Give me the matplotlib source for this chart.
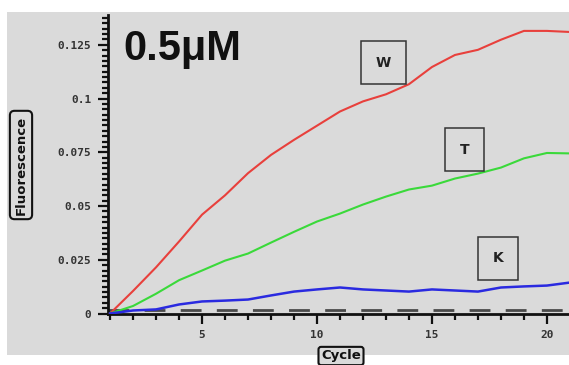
import matplotlib
matplotlib.use("Agg")
import matplotlib.pyplot as plt
from matplotlib.patches import Rectangle
from matplotlib.ticker import MultipleLocator, FixedLocator, FixedFormatter

cycles = list(range(1, 22))
w_vals = [0.0, 0.0105, 0.0215, 0.0335, 0.0460, 0.0550, 0.0653, 0.0738, 0.0808, 0.0874,
          0.0940, 0.0987, 0.1020, 0.1067, 0.1147, 0.1203, 0.1227, 0.1274, 0.1315, 0.1315, 0.1310]
t_vals = [0.0, 0.0035, 0.0092, 0.0155, 0.0200, 0.0246, 0.0279, 0.0330, 0.0380, 0.0428,
          0.0465, 0.0507, 0.0544, 0.0577, 0.0595, 0.0628, 0.0651, 0.0679, 0.0722, 0.0747, 0.0745]
k_vals = [0.0, 0.0014, 0.0019, 0.0042, 0.0056, 0.0060, 0.0065, 0.0084, 0.0102, 0.0112,
          0.0121, 0.0112, 0.0107, 0.0102, 0.0112, 0.0107, 0.0102, 0.0121, 0.0126, 0.0130, 0.0144]
threshold = 0.0018
y_ticks = [0, 0.025, 0.05, 0.075, 0.1, 0.125]
y_ticklabels = ['0', '0.025', '0.05', '0.075', '0.1', '0.125']
x_ticks = [5, 10, 15, 20]
x_ticklabels = ['5', '10', '15', '20']
series_labels = ['W', 'T', 'K']
label_pos = [(12.9, 0.1167), (16.43, 0.0763), (17.87, 0.0256)]
title_text = '0.5\u03bcM'

W, H = 569, 365
fig = plt.figure(figsize=(W / 100, H / 100), dpi=100, facecolor='white')
bg = '#dadada'

bgax = fig.add_axes([7 / W, 10 / H, 1 - 7 / W, (355 - 12) / H], zorder=-5)
bgax.set_facecolor(bg)
bgax.axis('off')
bgax.add_patch(Rectangle((0, 0), 1, 1, transform=bgax.transAxes, facecolor=bg, edgecolor='none'))

ax = fig.add_axes([108 / W, (365 - 313.5) / H, (569 - 108) / W, (313.5 - 15) / H], zorder=1)
ax.set_facecolor(bg)
ax.plot(cycles, w_vals, color='#e8403c', lw=1.5, zorder=3)
ax.plot(cycles, t_vals, color='#3ad93a', lw=1.5, zorder=3)
ax.plot(cycles, k_vals, color='#2a2ae0', lw=1.8, zorder=4)
ax.axhline(threshold, color='#4a4a4a', lw=2.0, dashes=(7.5, 5.5), zorder=2)

ax.set_xlim(0.91, 20.96)
ax.set_ylim(0, 0.1389)

for s in ['top', 'right']:
    ax.spines[s].set_visible(False)
for s in ['left', 'bottom']:
    ax.spines[s].set_linewidth(2)
    ax.spines[s].set_color('#111111')

ax.yaxis.set_major_locator(FixedLocator(y_ticks))
ax.yaxis.set_major_formatter(FixedFormatter(y_ticklabels))
ax.yaxis.set_minor_locator(MultipleLocator(0.0025))
ax.xaxis.set_major_locator(FixedLocator(x_ticks))
ax.xaxis.set_major_formatter(FixedFormatter(x_ticklabels))
ax.xaxis.set_minor_locator(MultipleLocator(1))
ax.tick_params(which='major', direction='out', length=7, width=1.6, color='#111111',
               labelsize=8, pad=5)
ax.tick_params(which='minor', direction='out', length=4, width=1.6, color='#111111')
for lab in ax.get_xticklabels() + ax.get_yticklabels():
    lab.set_family('DejaVu Sans Mono')
    lab.set_fontweight('bold')
    lab.set_color('#333333')

ax.text(0.0325, 0.849, title_text, transform=ax.transAxes, fontsize=30,
        fontweight='bold', family='Liberation Sans', va='baseline', ha='left', color='#111111')

for lbl, (xx, yy) in zip(series_labels, label_pos):
    ax.text(xx, yy, lbl, ha='center', va='center', fontsize=10, fontweight='bold',
            color='#222222', zorder=5,
            bbox=dict(boxstyle='square,pad=1.05', facecolor='none', edgecolor='#333333', lw=1.1))

fig.text(21 / W, (365 - 165) / H, 'Fluorescence', rotation=90, ha='center', va='center',
         fontsize=9.5, fontweight='bold', color='#111111', zorder=3,
         bbox=dict(boxstyle='round,pad=0.35', facecolor=bg, edgecolor='#111111', lw=1.5))
fig.text(341 / W, (365 - 356) / H, 'Cycle', ha='center', va='center',
         fontsize=9.5, fontweight='bold', color='#111111', zorder=3,
         bbox=dict(boxstyle='round,pad=0.2', facecolor=bg, edgecolor='#111111', lw=1.5))

fig.savefig('out.png', dpi=100, facecolor='white')
